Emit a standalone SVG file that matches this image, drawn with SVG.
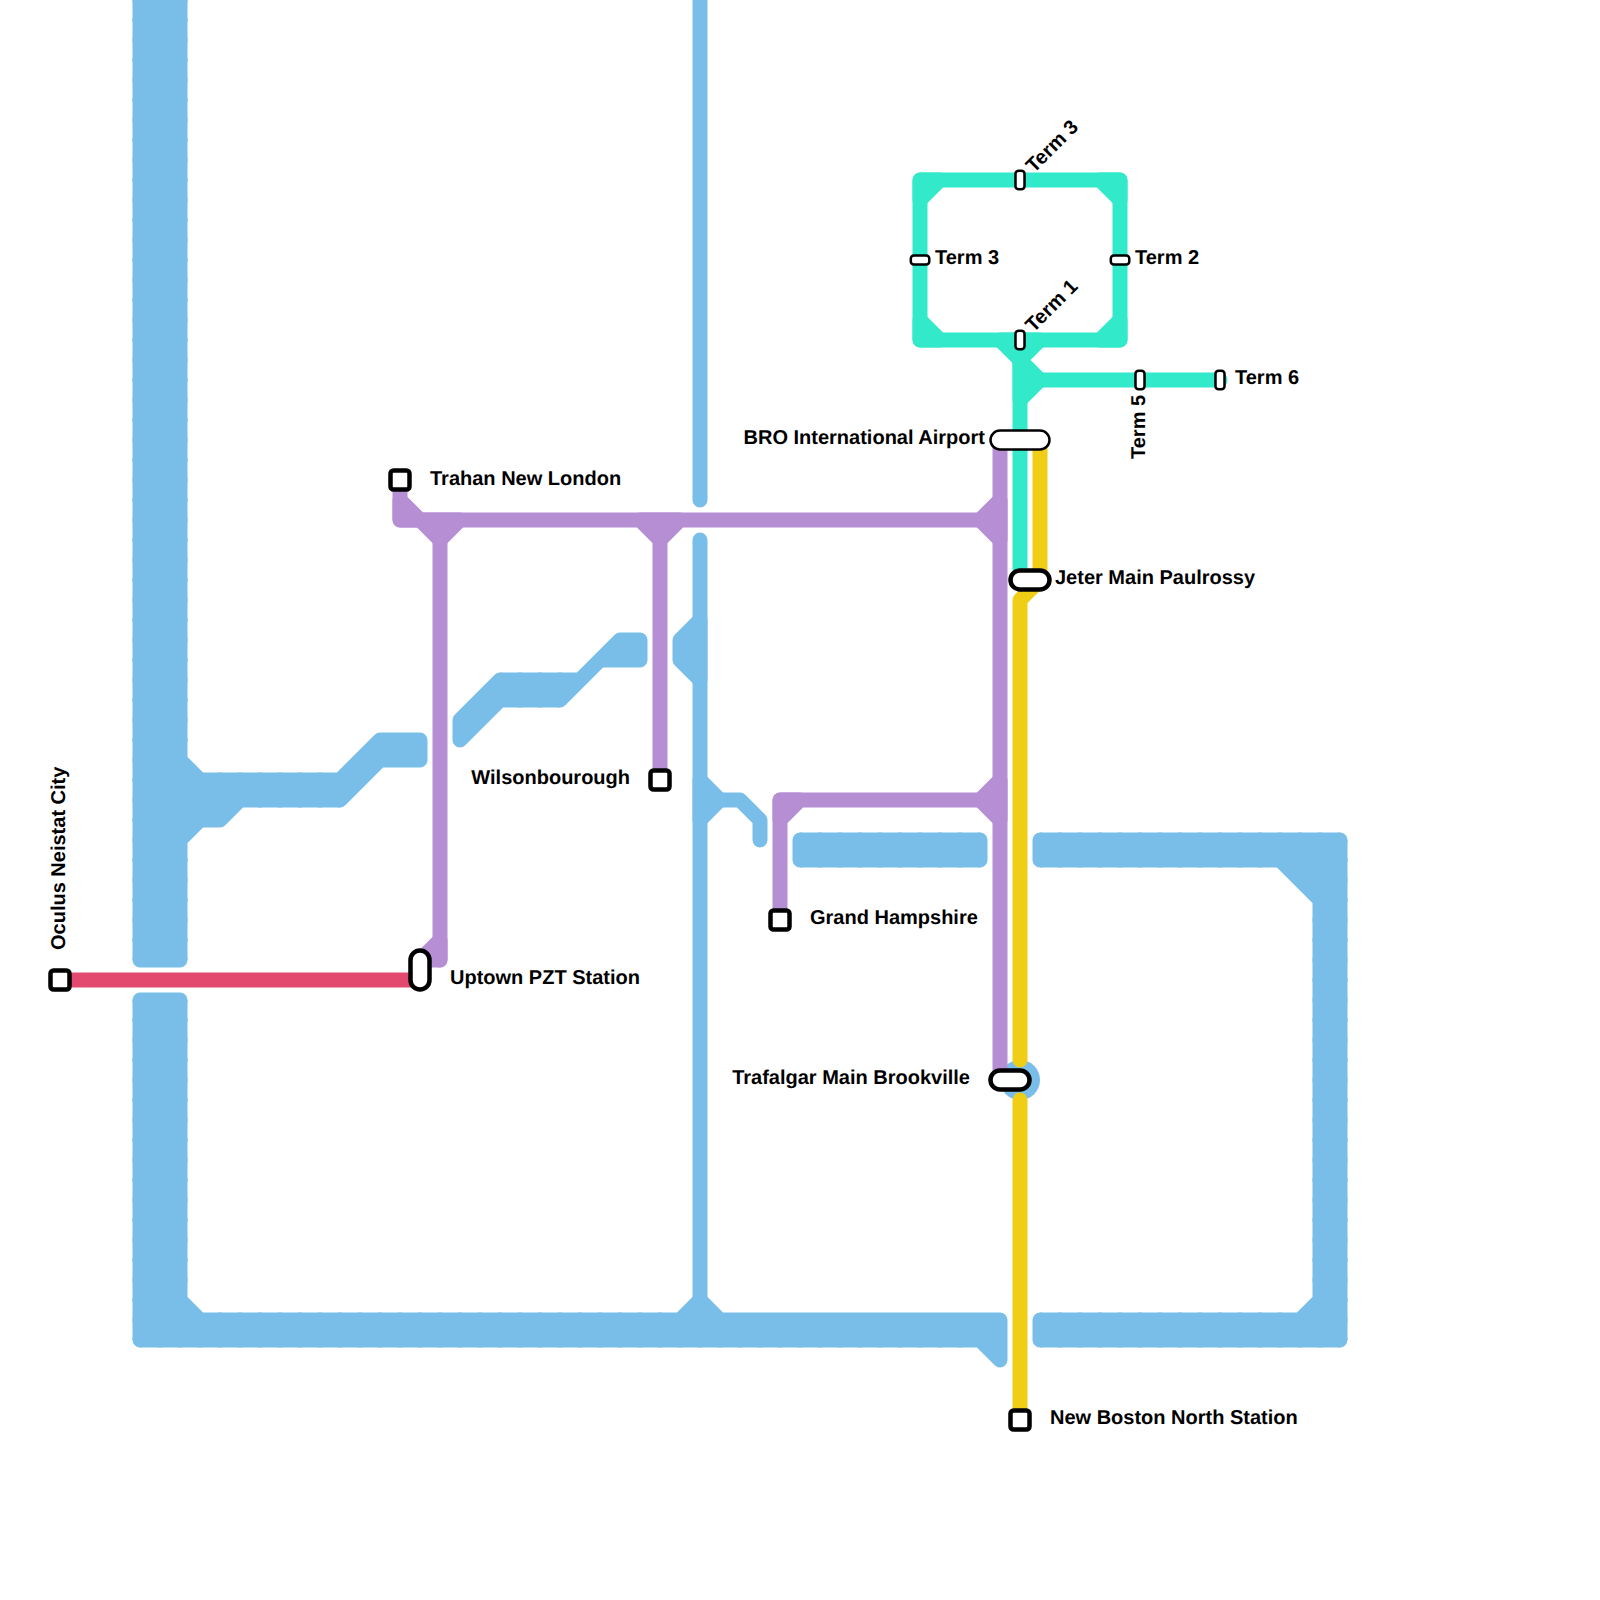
<svg xmlns="http://www.w3.org/2000/svg" width="1600" height="1600" viewBox="0 0 1600 1600">
<style>
.ln{fill:none;stroke-width:15;stroke-linecap:round;stroke-linejoin:round}
.blue{stroke:#79bde9}.purple{stroke:#b58ed4}.green{stroke:#32e9ca}.yellow{stroke:#f0ce15}.red{stroke:#e3486e}
.fb{fill:#79bde9}.fp{fill:#b58ed4}.fg{fill:#32e9ca}
.seam{fill:none;stroke:#79bde9;stroke-width:15;stroke-dasharray:4 16;stroke-dashoffset:2}
.st{fill:#fff;stroke:#000;stroke-width:4.5}
.sm{fill:#fff;stroke:#000;stroke-width:2.5}
text{font-family:"Liberation Sans",Arial,sans-serif;font-weight:700;font-size:20px;fill:#000;text-rendering:geometricPrecision}
</style>
<defs>
<path id="bl" d="M140 -20V960M180 -20V760M180 840V960M140 1000V1340M180 1000V1300M200 1320H680M140 1340H980M1040 1320H1300M1040 1340H1340M1340 840V1340M1320 900V1300M1040 840H1340M1040 860H1280M800 840H980M800 860H980M200 780H340M240 800H340M500 680H580M500 700H560"/>
</defs>
<rect width="1600" height="1600" fill="#fff"/>
<g id="connectors">
<g id="line-blue">
<circle cx="1020" cy="1080" r="20" fill="#79bde9"/>
<path class="ln blue fb" d="M140 -20H180V760L200 780H340L380 740H420V760H380L340 800H240L220 820H200L180 840V960H140ZM140 1000H180V1300L200 1320H680L700 1300L720 1320H1000V1360L980 1340H140ZM1040 840H1340V1340H1040V1320H1300L1320 1300V900L1280 860H1040ZM800 840H980V860H800ZM460 720L500 680H580L620 640H640V660H600L560 700H500L460 740ZM700 620L680 640V660L700 680ZM700 780L720 800L700 820Z"/>
<path class="ln blue" d="M700 -20V500M700 540V1300M720 800H740L760 820V840"/>
<use href="#bl" class="seam"/>
</g>
<g id="line-purple">
<path class="ln purple fp" d="M400 500V520H420ZM420 520H460L440 540ZM640 520H680L660 540ZM1000 500L980 520L1000 540ZM1000 780L980 800L1000 820ZM780 800H800L780 820ZM440 940L420 960H440Z"/>
<path class="ln purple" d="M1000 440V1080M400 480V520H1000M440 540V960M660 540V780M780 920V800H1000"/>
</g>
<g id="line-green">
<path class="ln green fg" d="M920 180H940L920 200ZM1100 180H1120V200ZM920 320V340H940ZM1100 340H1120V320ZM1000 340H1040L1020 360ZM1020 360L1040 380L1020 400Z"/>
<path class="ln green" d="M1020 340V580M920 180H1120V340H920ZM1040 380H1220"/>
</g>
<path id="line-yellow" class="ln yellow" d="M1040 440V580L1020 600V1060M1020 1100V1420"/>
<path id="line-red" class="ln red" d="M60 980H420"/>
</g>
<g id="station-oculus"><rect class="st" x="50.5" y="970.5" width="19" height="19" rx="3"/><text transform="translate(65 950) rotate(-90)">Oculus Neistat City</text></g>
<g id="station-uptown"><rect class="st" x="410.5" y="950.5" width="19" height="39" rx="9.5"/><text x="450" y="984">Uptown PZT Station</text></g>
<g id="station-trahan"><rect class="st" x="390.5" y="470.5" width="19" height="19" rx="3"/><text x="430" y="485">Trahan New London</text></g>
<g id="station-wilsonbourough"><rect class="st" x="650.5" y="770.5" width="19" height="19" rx="3"/><text x="630" y="784" text-anchor="end">Wilsonbourough</text></g>
<g id="station-grand-hampshire"><rect class="st" x="770.5" y="910.5" width="19" height="19" rx="3"/><text x="810" y="924">Grand Hampshire</text></g>
<g id="station-bro"><rect class="sm" x="990.5" y="430.5" width="59" height="19" rx="9.5"/><text x="985" y="444" text-anchor="end">BRO International Airport</text></g>
<g id="station-jeter"><rect class="st" x="1010.5" y="570.5" width="39" height="19" rx="9.5"/><text x="1055" y="584">Jeter Main Paulrossy</text></g>
<g id="station-trafalgar"><rect class="st" x="990.5" y="1070.5" width="39" height="19" rx="9.5"/><text x="970" y="1084" text-anchor="end">Trafalgar Main Brookville</text></g>
<g id="station-new-boston"><rect class="st" x="1010.5" y="1410.5" width="19" height="19" rx="3"/><text x="1050" y="1424">New Boston North Station</text></g>
<g id="station-term3-top"><rect class="sm" x="1015.5" y="170.8" width="9" height="18.5" rx="3"/><text transform="translate(1034 173.5) rotate(-45)">Term 3</text></g>
<g id="station-term3-left"><rect class="sm" x="910.8" y="255.5" width="18.5" height="9" rx="3"/><text x="935" y="264">Term 3</text></g>
<g id="station-term2"><rect class="sm" x="1110.8" y="255.5" width="18.5" height="9" rx="3"/><text x="1135" y="264">Term 2</text></g>
<g id="station-term1"><rect class="sm" x="1015.5" y="330.8" width="9" height="18.5" rx="3"/><text transform="translate(1033.5 333) rotate(-45)">Term 1</text></g>
<g id="station-term5"><rect class="sm" x="1135.5" y="370.8" width="9" height="18.5" rx="3"/><text transform="translate(1145 459) rotate(-90)">Term 5</text></g>
<g id="station-term6"><rect class="sm" x="1215.5" y="370.8" width="9" height="18.5" rx="3"/><text x="1235" y="384">Term 6</text></g>
</svg>
